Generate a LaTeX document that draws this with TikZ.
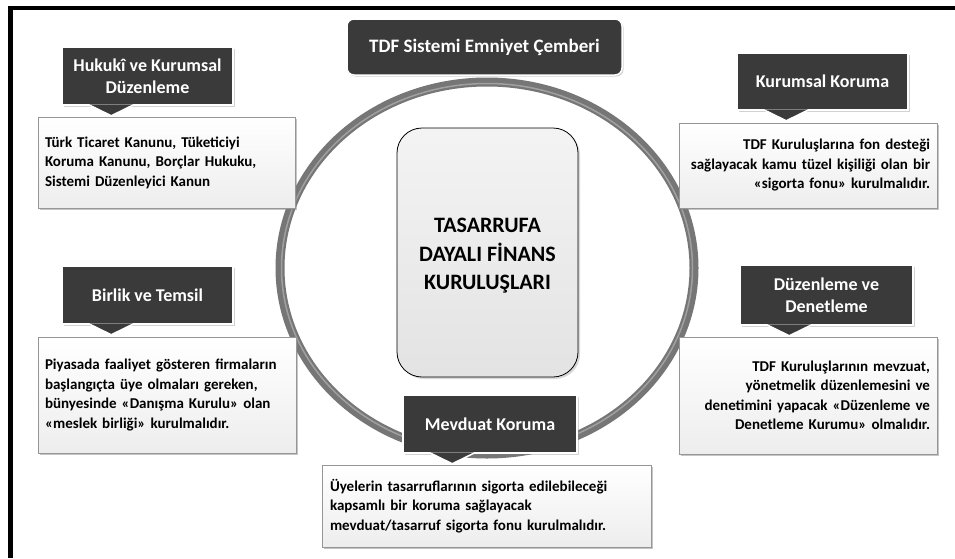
\documentclass[tikz,border=0pt]{standalone}
\usepackage{fontspec}
\setmainfont{Carlito}
\usetikzlibrary{shadows,positioning}

\definecolor{headgray}{RGB}{58,58,58}
\definecolor{ringgray}{RGB}{118,118,118}
\definecolor{ringlight}{RGB}{160,160,160}
\definecolor{boxedge}{RGB}{150,150,150}

% little arrow under a header box
\newcommand\headtip[1]{%
  \fill[headgray] ([xshift=28pt,yshift=1.5pt]#1.south west) -- ([xshift=50pt,yshift=-10pt]#1.south west)
    -- ([xshift=72pt,yshift=1.5pt]#1.south west) -- cycle;
  \draw[white,line width=1.5pt] ([xshift=28pt,yshift=0.75pt]#1.south west) -- ([xshift=50pt,yshift=-10pt]#1.south west)
    -- ([xshift=72pt,yshift=0.75pt]#1.south west);}

\begin{document}
\begin{tikzpicture}[x=1pt,y=-1pt,
  header/.style={fill=headgray,draw=white,line width=1.5pt,text=white,align=center,inner sep=0pt,
    font=\fontsize{18}{21.5}\selectfont\bfseries,
    drop shadow={shadow xshift=1.5pt,shadow yshift=-1.5pt,opacity=0.35}},
  titlebox/.style={header,rounded corners=7pt,font=\fontsize{19}{23}\selectfont\bfseries},
  infobox/.style={draw=boxedge,line width=0.8pt,top color=white,bottom color=gray!14,inner sep=0pt,
    font=\fontsize{15}{19.5}\selectfont\bfseries,
    drop shadow={shadow xshift=2pt,shadow yshift=-2pt,opacity=0.45}},
  core/.style={draw=black,line width=0.8pt,rounded corners=25pt,top color=gray!9,bottom color=gray!22,
    drop shadow={shadow xshift=2pt,shadow yshift=-2pt,opacity=0.3}}]
  \useasboundingbox (0,0) rectangle (955,558);
  \fill[white] (0,0) rectangle (955,558);
  \draw[line width=4.5pt] (955,8) -- (10.5,8) -- (10.5,558);

  % ring
  \draw[ringgray,line width=9pt] (487,268) ellipse [x radius=207, y radius=186];
  \draw[ringlight,line width=1.5pt] (487,268) ellipse [x radius=205.5, y radius=184.5];

  \node[core,minimum width=181pt,minimum height=249pt] (tdf) at (487.5,252.5) {};
  \node[align=center,font=\fontsize{22}{28.5}\selectfont\bfseries] (tdftext) at (487.5,256)
    {TASARRUFA\\DAYALI FİNANS\\KURULUŞLARI};
  \node[titlebox,minimum width=275pt,minimum height=56pt] (title) at (484.5,47) {TDF Sistemi Emniyet Çemberi};

  % text boxes
  \node[infobox,minimum width=257pt,minimum height=91pt,text width=243pt,align=left] (kanun) at (166.5,162.5)
    {Türk Ticaret Kanunu, Tüketiciyi\\Koruma Kanunu, Borçlar Hukuku,\\Sistemi Düzenleyici  Kanun};
  \node[infobox,minimum width=258pt,minimum height=116pt,text width=244pt,align=left] (piyasa) at (167,395)
    {Piyasada  faaliyet gösteren firmaların\\başlangıçta  üye olmaları  gereken,\\bünyesinde «Danışma  Kurulu» olan\\«meslek birliği» kurulmalıdır.};
  \node[infobox,minimum width=258pt,minimum height=85pt,text width=244pt,align=right] (fon) at (808,165.5)
    {TDF Kuruluşlarına  fon desteği\\sağlayacak kamu tüzel kişiliği olan bir\\«sigorta fonu»  kurulmalıdır.};
  \node[infobox,minimum width=258pt,minimum height=117pt,text width=244pt,align=right] (denetim) at (808,395.5)
    {TDF Kuruluşlarının  mevzuat,\\yönetmelik düzenlemesini ve\\denetimini yapacak  «Düzenleme ve\\Denetleme  Kurumu» olmalıdır.};
  \node[infobox,minimum width=329pt,minimum height=82pt,text width=313pt,align=left] (sigorta) at (486.5,506)
    {Üyelerin tasarruflarının  sigorta  edilebileceği\\kapsamlı bir koruma  sağlayacak\\mevduat/tasarruf  sigorta fonu kurulmalıdır.};

  % headers
  \node[header,minimum width=171pt,minimum height=58pt] (hukuk) at (147.5,76) {Hukukî ve Kurumsal\\Düzenleme};
  \node[header,minimum width=171pt,minimum height=58pt] (birlik) at (147.5,295) {Birlik ve Temsil};
  \node[header,minimum width=171pt,minimum height=57pt] (kurumsal) at (822.5,81.5) {Kurumsal Koruma};
  \node[header,minimum width=173pt,minimum height=60pt] (duzen) at (826.5,295) {Düzenleme ve\\Denetleme};
  \node[header,minimum width=174pt,minimum height=58pt] (mevduat) at (490,424) {Mevduat Koruma};
  \headtip{hukuk}
  \headtip{birlik}
  \headtip{kurumsal}
  \headtip{duzen}
  \headtip{mevduat}
\end{tikzpicture}
\end{document}
